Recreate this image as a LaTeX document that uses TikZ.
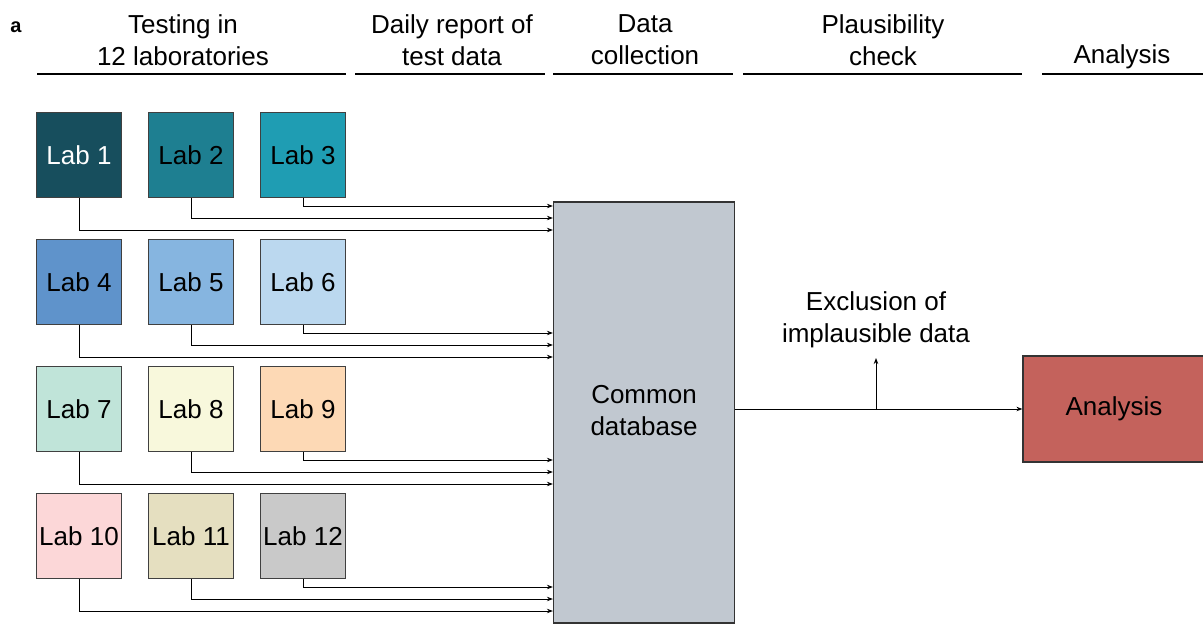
\documentclass[tikz,border=0pt]{standalone}
\usepackage{fontspec}
\setmainfont{Liberation Sans}
\newfontfamily\panelfont{Liberation Sans Bold}
\usetikzlibrary{arrows.meta}

\definecolor{labA}{HTML}{174E5D}
\definecolor{labB}{HTML}{1E7F91}
\definecolor{labC}{HTML}{1F9DB3}
\definecolor{labD}{HTML}{5F93CB}
\definecolor{labE}{HTML}{86B5E0}
\definecolor{labF}{HTML}{BBD8EF}
\definecolor{labG}{HTML}{C0E4D9}
\definecolor{labH}{HTML}{F8F8DC}
\definecolor{labI}{HTML}{FDD9B5}
\definecolor{labJ}{HTML}{FCD7D8}
\definecolor{labK}{HTML}{E5DFC0}
\definecolor{labL}{HTML}{C9C9C9}
\definecolor{dbgray}{HTML}{C1C8D0}
\definecolor{anared}{HTML}{C4625C}

\tikzset{
  lab/.style={draw=black!75, line width=1.2pt, minimum size=85pt, inner sep=0pt},
  conn/.style={line width=0.9pt, -{Stealth[length=6pt,width=4.5pt]}},
  head/.style={align=center, font=\fontsize{26}{32}\selectfont},
  rule/.style={line width=2pt},
  txt/.style={font=\fontsize{26}{32}\selectfont}
}

\begin{document}
\begin{tikzpicture}[x=1pt,y=-1pt]
\useasboundingbox (0,0) rectangle (1203,624);

\node[font=\panelfont\fontsize{20}{24}\selectfont] (panel) at (16,27){a};

% column headings and their rules
\node[head] (h1) at (183,40){Testing in\\12 laboratories};
\node[head] (h2) at (452,40){Daily report of\\test data};
\node[head] (h3) at (645,40){Data\\collection};
\node[head] (h4) at (883,40){Plausibility\\check};
\node[head] (h5) at (1122,57){Analysis};
\draw[rule] (37,73.5) -- (346,73.5);
\draw[rule] (355,73.5) -- (545,73.5);
\draw[rule] (553,73.5) -- (733,73.5);
\draw[rule] (743,73.5) -- (1022,73.5);
\draw[rule] (1042,73.5) -- (1203,73.5);

% database and analysis
\node[draw=black!80, line width=1.2pt, fill=dbgray, minimum width=181pt, minimum height=421pt,
  inner sep=0pt] (db) at (644,412.5){};
\node[txt, align=center] (dbtext) at (644,411){Common\\database};
\node[draw=black!80, line width=1.2pt, fill=anared, minimum width=182pt, minimum height=106pt,
  inner sep=0pt, txt] (ana) at (1114,409){Analysis};

% the twelve labs, three per row
\foreach \n/\x/\y/\c/\t in {1/79/155/labA/white,2/191/155/labB/black,3/303/155/labC/black,
                         4/79/282/labD/black,5/191/282/labE/black,6/303/282/labF/black,
                         7/79/409/labG/black,8/191/409/labH/black,9/303/409/labI/black,
                         10/79/536/labJ/black,11/191/536/labK/black,12/303/536/labL/black}
  \node[lab, fill=\c, text=\t, txt] (lab\n) at (\x,\y){Lab \n};

% daily reports into the database
\foreach \a/\b/\c/\y in {1/2/3/198,4/5/6/325,7/8/9/452,10/11/12/579}{
  \draw[conn] (lab\c.south) |- (db.west |- 0,\y+8);
  \draw[conn] (lab\b.south) |- (db.west |- 0,\y+20);
  \draw[conn] (lab\a.south) |- (db.west |- 0,\y+32);
}

% plausibility check
\coordinate (split) at (876,409);
\node[txt, align=center] (excl) at (876,320){Exclusion of\\implausible data};
\draw[conn] (db.east |- split) -- (ana.west);
\draw[conn] (split) -- (876,358);
\end{tikzpicture}
\end{document}
